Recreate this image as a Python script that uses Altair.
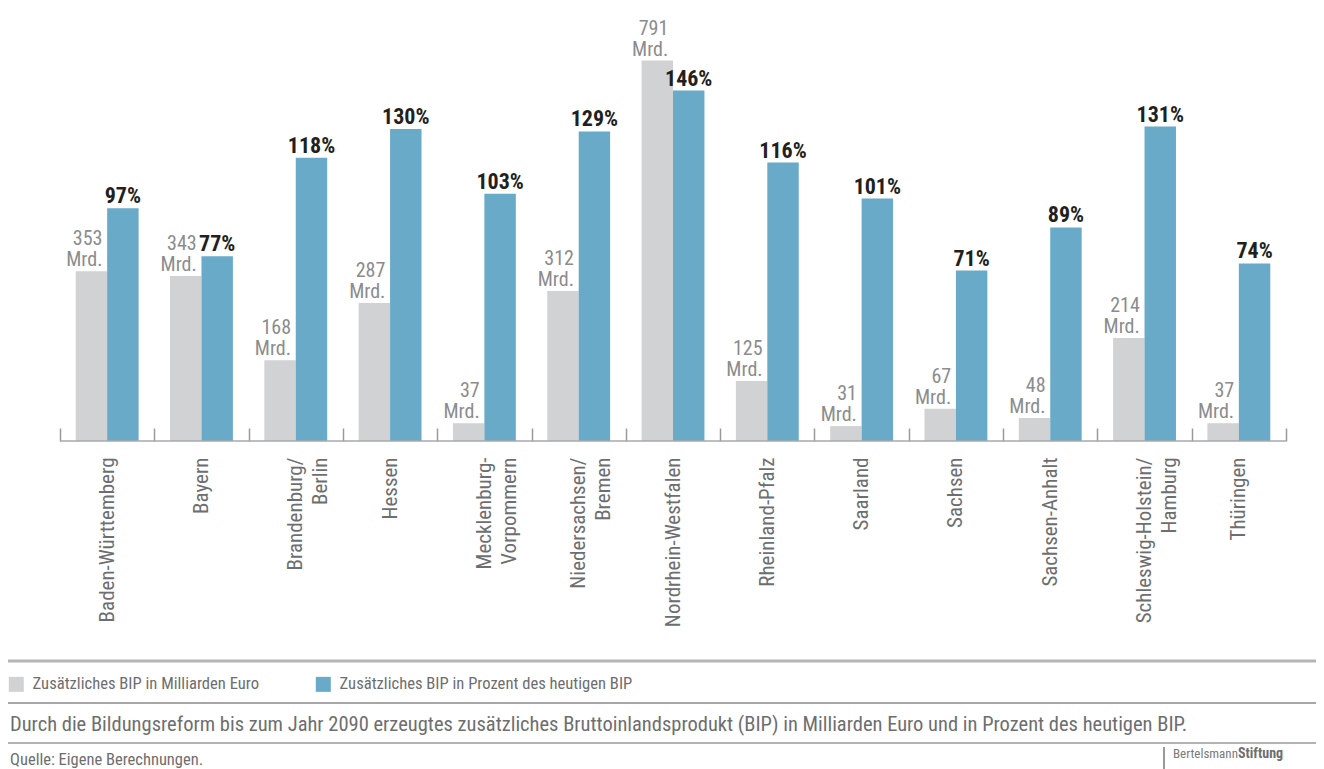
import altair as alt
import pandas as pd

regions = ["Baden-Württemberg", "Bayern", "Brandenburg/\nBerlin", "Hessen",
           "Mecklenburg-\nVorpommern", "Niedersachsen/\nBremen", "Nordrhein-Westfalen",
           "Rheinland-Pfalz", "Saarland", "Sachsen", "Sachsen-Anhalt",
           "Schleswig-Holstein/\nHamburg", "Thüringen"]
mrd = [353, 343, 168, 287, 37, 312, 791, 125, 31, 67, 48, 214, 37]
pct = [97, 77, 118, 130, 103, 129, 146, 116, 101, 71, 89, 131, 74]
series = ["Zusätzliches BIP in Milliarden Euro",
          "Zusätzliches BIP in Prozent des heutigen BIP"]
colors = ["#d1d2d4", "#68aac8"]
caption = ("Durch die Bildungsreform bis zum Jahr 2090 erzeugtes zusätzliches "
           "Bruttoinlandsprodukt (BIP) in Milliarden Euro und in Prozent des heutigen BIP.")
source = "Quelle: Eigene Berechnungen."

df_m = pd.DataFrame({"region": regions, "series": series[0], "value": mrd,
                     "label": [f"{v}\nMrd." for v in mrd]})
df_p = pd.DataFrame({"region": regions, "series": series[1], "value": pct,
                     "label": [f"{v}%" for v in pct]})

W, H = 1226, 420
FONT = "Liberation Sans Narrow, Roboto Condensed, DejaVu Sans Condensed, Roboto, sans-serif"

x = alt.X("region:N", sort=regions, scale=alt.Scale(paddingInner=0, paddingOuter=0),
          axis=alt.Axis(title=None, labelAngle=-90, labelExpr="split(datum.label, '\\n')",
                        domain=False, ticks=True, tickBand="extent", tickSize=13,
                        tickColor="#9a9a9a", tickWidth=1.5, offset=-13, labelPadding=16,
                        labelFontSize=21, labelColor="#6d6e70", labelFont=FONT,
                        labelLineHeight=25, labelLimit=400, grid=False))
xo = alt.XOffset("series:N", sort=series,
                 scale=alt.Scale(paddingOuter=0.5, paddingInner=0))
color = alt.Color("series:N", sort=series,
                  scale=alt.Scale(domain=series, range=colors),
                  legend=alt.Legend(title=None, orient="none", legendX=-52, legendY=655,
                                    direction="horizontal", symbolType="square",
                                    symbolSize=225, symbolStrokeWidth=0,
                                    labelFont=FONT, labelFontSize=16.6, labelColor="#6d6e70",
                                    labelOffset=8, columnPadding=56, padding=0,
                                    labelLimit=400))

y_m = alt.Y("value:Q", scale=alt.Scale(domain=[0, H / 0.481]), axis=None)
y_p = alt.Y("value:Q", scale=alt.Scale(domain=[0, H / 2.4]), axis=None)

gray_bars = alt.Chart(df_m).mark_bar().encode(x=x, xOffset=xo, y=y_m, color=color)
gray_text = alt.Chart(df_m).mark_text(
    align="right", baseline="bottom", dx=11, dy=-22, lineBreak="\n", font=FONT,
    fontSize=20, lineHeight=21, color="#8b8c8e").encode(x=x, xOffset=xo, y=y_m, text="label:N")
gray = alt.layer(gray_bars, gray_text)

blue_bars = alt.Chart(df_p).mark_bar().encode(x=x, xOffset=xo, y=y_p, color=color)
blue_text = alt.Chart(df_p).mark_text(
    align="center", baseline="alphabetic", dy=-5, font=FONT, fontSize=22,
    fontWeight="bold", color="#231f20").encode(x=x, xOffset=xo, y=y_p, text="label:N")
blue = alt.layer(blue_bars, blue_text)

one = pd.DataFrame({"k": [0]})

def hline(yv, col, w):
    return alt.Chart(one).mark_rule(color=col, strokeWidth=w).encode(
        x=alt.value(-52), x2=alt.value(1256), y=alt.value(yv))

def txt(xv, yv, s, size, col, weight="normal", align="left"):
    return alt.Chart(one).mark_text(align=align, baseline="middle", font=FONT,
                                    fontSize=size, color=col, fontWeight=weight).encode(
        x=alt.value(xv), y=alt.value(yv), text=alt.value(s))

baseline = alt.Chart(one).mark_rule(color="#a7a9ac", strokeWidth=1.5).encode(
    x=alt.value(0), x2=alt.value(W), y=alt.value(H))

logo_bar = alt.Chart(one).mark_rule(color="#777777", strokeWidth=1.5).encode(
    x=alt.value(1104), y=alt.value(726), y2=alt.value(748))

deco = [
    baseline,
    hline(640, "#b5b5b5", 3),
    hline(682, "#8a8a8a", 1.5),
    hline(722, "#9a9a9a", 1.5),
    txt(-50, 704, caption, 20.5, "#6d6e70"),
    txt(-50, 739, source, 16.5, "#6d6e70"),
    logo_bar,
    txt(1113, 733, "Bertelsmann", 13, "#7a7a7a"),
    txt(1178, 733, "Stiftung", 14, "#6d6e70", weight="bold"),
]

chart = alt.layer(gray, blue, *deco).resolve_scale(y="independent").properties(
    width=W, height=H,
    autosize=alt.AutoSizeParams(type="none"),
    padding={"left": 52, "top": 13, "right": 30, "bottom": 328},
).configure_view(stroke=None)

chart.save("out.html", embed_options={"renderer": "svg", "actions": False})
